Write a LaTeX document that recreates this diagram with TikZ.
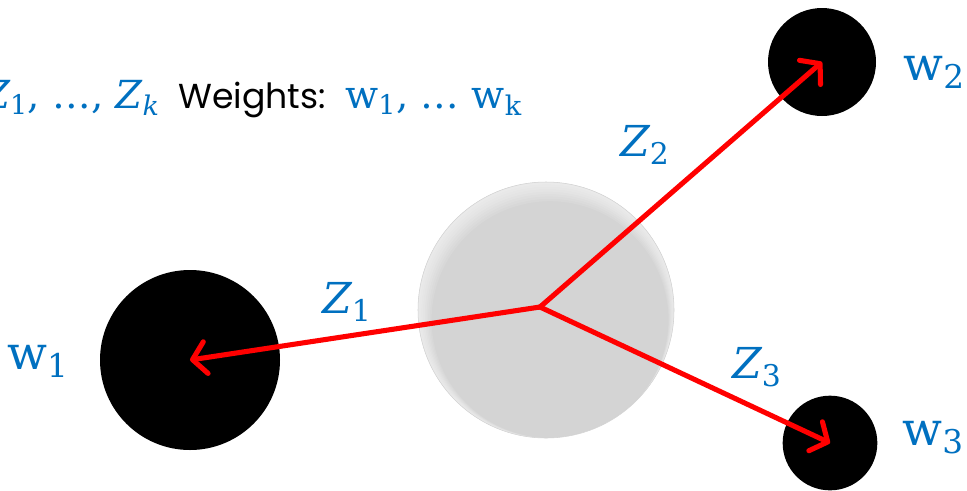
\documentclass[tikz,border=0pt]{standalone}
\usepackage{fix-cm}
\usepackage[no-math]{fontspec}
\setmainfont{Poppins}
\newfontfamily\mfont{DejaVu Serif}
\usepackage{tikz}
\usetikzlibrary{arrows.meta}
\definecolor{bluex}{HTML}{0070C0}
\definecolor{redx}{HTML}{FF0000}
\definecolor{sphx}{HTML}{D4D4D4}
\newcommand\zsub[1]{{\itshape Z}\textsubscript{#1}}
\newcommand\wsub[1]{w\textsubscript{#1}}
\tikzset{
  ar/.style={-{Straight Barb[length=10pt,width=24pt,round]},line width=3.8pt,redx,line cap=round},
  ball/.style={circle,fill=black,inner sep=0pt},
  lbl/.style={text=bluex,font=\mfont\fontsize{32}{36}\selectfont,inner sep=0pt}
}
\begin{document}
\begin{tikzpicture}[x=0.75pt,y=-0.75pt]
\useasboundingbox (0,0) rectangle (967,490);
% grey ball with a soft light rim
\fill[sphx] (546,310) circle (96pt);
\foreach \k in {1,...,8}
  \fill[white,opacity=.1,even odd rule] (546,310) circle (96pt) ({546+0.5*\k},{310+1.2*\k}) circle ({(96-0.9*\k)*1pt});
\draw[gray!35,line width=.4pt] (546,310) circle (96pt);
% the weights
\node[ball,minimum size=135pt] (wone) at (190,360) {};
\node[ball,minimum size=81pt] (wtwo) at (822,62) {};
\node[ball,minimum size=71pt] (wthree) at (830,443) {};
\coordinate (hub) at (540,307);
\draw[ar] (hub) -- (wone.center);
\draw[ar] (hub) -- (wtwo.center);
\draw[ar] (hub) -- (wthree.center);
% labels
\node[lbl] (zone) at (347,302) {\zsub{1}};
\node[lbl] (ztwo) at (645,145) {\zsub{2}};
\node[lbl] (zthree) at (757,367) {\zsub{3}};
\node[lbl,font=\mfont\fontsize{35}{40}\selectfont] (lone) at (38,361) {\wsub{1}};
\node[lbl,font=\mfont\fontsize{35}{40}\selectfont] (ltwo) at (934,72) {\wsub{2}};
\node[lbl,font=\mfont\fontsize{35}{40}\selectfont] (lthree) at (933,438) {\wsub{3}};
\node[lbl,anchor=base east,font=\mfont\fontsize{29}{33}\selectfont] (zlist) at (160,108) {\zsub{1}, …, \zsub{\itshape k}};
\node[anchor=base west,inner sep=0pt,font=\fontsize{26}{30}\selectfont] (weights) at (178,108) {Weights:};
\node[lbl,anchor=base west,font=\mfont\fontsize{29}{33}\selectfont] (wlist) at (345,108) {\wsub{1}, … \wsub{k}};
\end{tikzpicture}
\end{document}
